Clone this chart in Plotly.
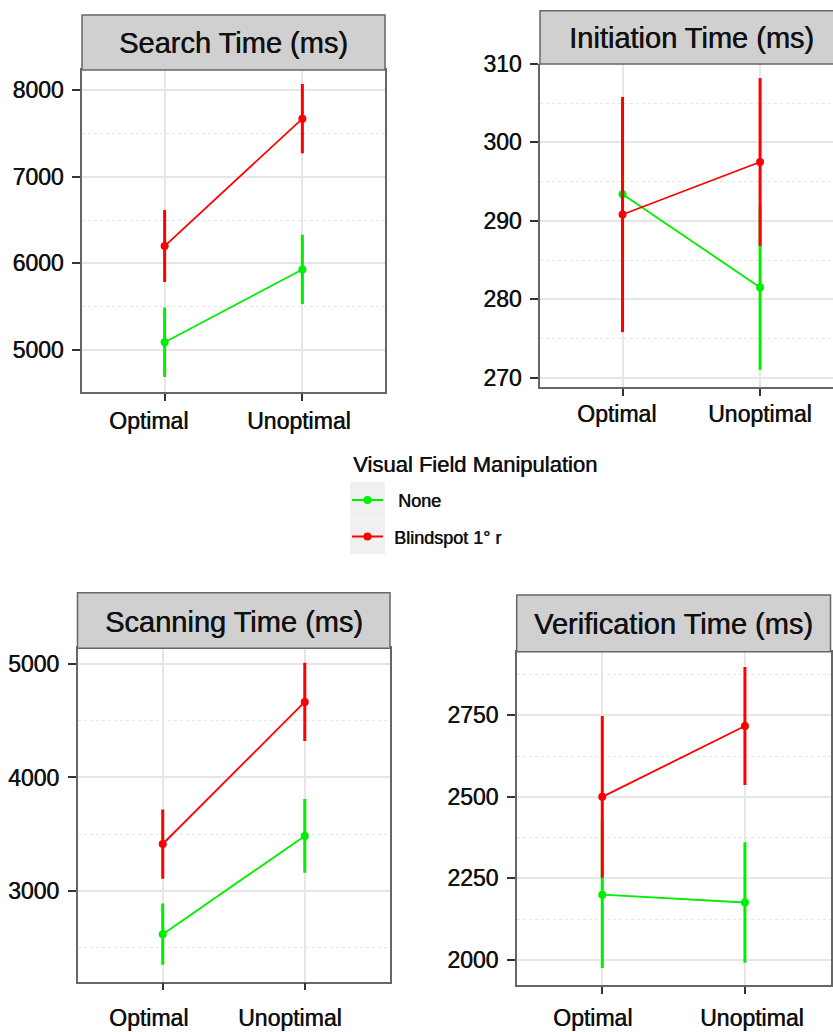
import plotly.graph_objects as go

# Factor levels on the x axis
conditions = ["Optimal", "Unoptimal"]

# Means and confidence half-widths per measure, for each visual field condition
search_none = [5090, 5930]
search_none_ci = [400, 400]
search_blind = [6200, 7670]
search_blind_ci = [415, 400]

init_none = [293.4, 281.5]
init_none_ci = [8.0, 10.5]
init_blind = [290.8, 297.5]
init_blind_ci = [15.0, 10.7]

scan_none = [2620, 3485]
scan_none_ci = [270, 325]
scan_blind = [3414, 4666]
scan_blind_ci = [305, 345]

verif_none = [2200, 2176]
verif_none_ci = [225, 185]
verif_blind = [2500, 2717]
verif_blind_ci = [248, 181]

titles = ["Search Time (ms)", "Initiation Time (ms)", "Scanning Time (ms)", "Verification Time (ms)"]
y_ticks = [
    [5000, 6000, 7000, 8000],
    [270, 280, 290, 300, 310],
    [3000, 4000, 5000],
    [2000, 2250, 2500, 2750],
]
group_names = ["None", "Blindspot 1° r"]
group_colors = ["#00ee00", "#ff0000"]

W, H = 833, 1032
FONT = "Liberation Sans, Arial, sans-serif"
BORDER = "#666666"
TEXT = "#111111"
# slight horizontal shadow to thicken glyph strokes
HEAVY = "0.5px 0px 0px #111111"


def px_x(x):
    return x / W


def px_y(y):
    return 1 - y / H


def font(size):
    return dict(family=FONT, size=size, color=TEXT, shadow=HEAVY)


# Panel geometry in pixels: plot box (x0, x1, y0, y1), strip top, y range, x range
panels = [
    dict(box=(82, 385, 70, 392), strip_top=15, yr=[4516, 8231], xr=[-0.6, 1.6], right=True,
         label_y=419, label_shift=[-16, -3], strip_cx=233.5),
    dict(box=(540, 833, 64, 387), strip_top=10.7, yr=[268.8, 310.0], xr=[-0.6, 1.53], right=False,
         label_y=412, label_shift=[-6, 0], strip_cx=691),
    dict(box=(77.5, 390, 648.3, 981.7), strip_top=592.7, yr=[2201, 5138], xr=[-0.6, 1.6], right=True,
         label_y=1016, label_shift=[-14, -15], strip_cx=233.8),
    dict(box=(516.7, 830.5, 651.7, 985), strip_top=595, yr=[1923, 2945], xr=[-0.6, 1.6], right=True,
         label_y=1016, label_shift=[-10, 7], strip_cx=673.7),
]

series = [
    [(search_none, search_none_ci), (search_blind, search_blind_ci)],
    [(init_none, init_none_ci), (init_blind, init_blind_ci)],
    [(scan_none, scan_none_ci), (scan_blind, scan_blind_ci)],
    [(verif_none, verif_none_ci), (verif_blind, verif_blind_ci)],
]

fig = go.Figure()
shapes = []
annotations = []
layout_axes = {}

for i, (p, pair) in enumerate(zip(panels, series)):
    n = "" if i == 0 else str(i + 1)
    x0, x1, y0, y1 = p["box"]
    for (vals, ci), name, col in zip(pair, group_names, group_colors):
        fig.add_trace(go.Scatter(
            x=conditions, y=vals, name=name, mode="lines+markers",
            line=dict(color=col, width=1.8),
            marker=dict(color=col, size=8),
            error_y=dict(type="data", array=ci, visible=True, color=col, thickness=3, width=0),
            xaxis="x" + n, yaxis="y" + n, showlegend=False,
        ))
    ytv = y_ticks[i]
    step = ytv[1] - ytv[0]
    layout_axes["xaxis" + n] = dict(
        domain=[px_x(x0), min(px_x(x1), 1.0)], anchor="y" + n,
        type="category", categoryarray=conditions, range=p["xr"],
        showgrid=True, gridcolor="#e6e6e6", gridwidth=1.5,
        showline=True, linecolor=BORDER, linewidth=1.5, mirror=p["right"],
        ticks="outside", ticklen=7, tickwidth=1.5, tickcolor="#333333",
        showticklabels=False, zeroline=False, fixedrange=True, automargin=False,
    )
    layout_axes["yaxis" + n] = dict(
        domain=[px_y(y1), px_y(y0)], anchor="x" + n, range=p["yr"],
        tickvals=ytv, showgrid=True, gridcolor="#e6e6e6", gridwidth=1.5,
        minor=dict(dtick=step / 2, tick0=ytv[0], showgrid=True, gridcolor="#e6e6e6",
                   griddash="dot", gridwidth=1.2),
        showline=True, linecolor=BORDER, linewidth=1.5, mirror=p["right"],
        ticks="outside", ticklen=8, tickwidth=1.5, tickcolor="#333333",
        tickfont=font(23),
        ticklabelstandoff=4, zeroline=False, fixedrange=True, automargin=False,
    )
    # Facet strip with title
    strip_x1 = px_x(x1) if p["right"] else 1.02
    shapes.append(dict(type="rect", xref="paper", yref="paper",
                       x0=px_x(x0), x1=strip_x1, y0=px_y(y0), y1=px_y(p["strip_top"]),
                       fillcolor="#d0d0d0", line=dict(color=BORDER, width=1.5), layer="above"))
    annotations.append(dict(text=titles[i], xref="paper", yref="paper",
                            x=px_x(p["strip_cx"]), y=px_y((y0 + p["strip_top"]) / 2 + 1),
                            xanchor="center", yanchor="middle", showarrow=False,
                            font=font(29)))
    # Category labels under each panel
    for c, shift in zip(conditions, p["label_shift"]):
        annotations.append(dict(text=c, xref="x" + n, yref="paper", x=c,
                                y=px_y(p["label_y"] + 2), xshift=shift,
                                xanchor="center", yanchor="middle", showarrow=False,
                                font=font(23)))

# Shared legend between the rows
annotations.append(dict(text="Visual Field Manipulation", xref="paper", yref="paper",
                        x=px_x(351), y=px_y(464), xanchor="left", yanchor="middle",
                        showarrow=False, font=font(22)))
key_rows = [(482, 518.5, 500, 396), (519, 554, 536.5, 392)]
for (ky0, ky1, kc, tx), name, col in zip(key_rows, group_names, group_colors):
    shapes.append(dict(type="rect", xref="paper", yref="paper",
                       x0=px_x(350), x1=px_x(385), y0=px_y(ky1), y1=px_y(ky0),
                       fillcolor="#f0f0f0", line=dict(width=0)))
    shapes.append(dict(type="line", xref="paper", yref="paper",
                       x0=px_x(352), x1=px_x(383), y0=px_y(kc), y1=px_y(kc),
                       line=dict(color=col, width=2)))
    shapes.append(dict(type="circle", xref="paper", yref="paper",
                       x0=px_x(363.5), x1=px_x(371.5), y0=px_y(kc + 4), y1=px_y(kc - 4),
                       fillcolor=col, line=dict(color=col, width=0)))
    annotations.append(dict(text=name, xref="paper", yref="paper",
                            x=px_x(tx), y=px_y(kc + 1), xanchor="left", yanchor="middle",
                            showarrow=False, font=font(18)))

fig.update_layout(
    width=W, height=H, margin=dict(l=0, r=0, t=0, b=0, pad=0, autoexpand=False),
    paper_bgcolor="white", plot_bgcolor="white",
    shapes=shapes, annotations=annotations, showlegend=False,
    **layout_axes,
)

fig.write_html("out.html", config=dict(displayModeBar=False))
